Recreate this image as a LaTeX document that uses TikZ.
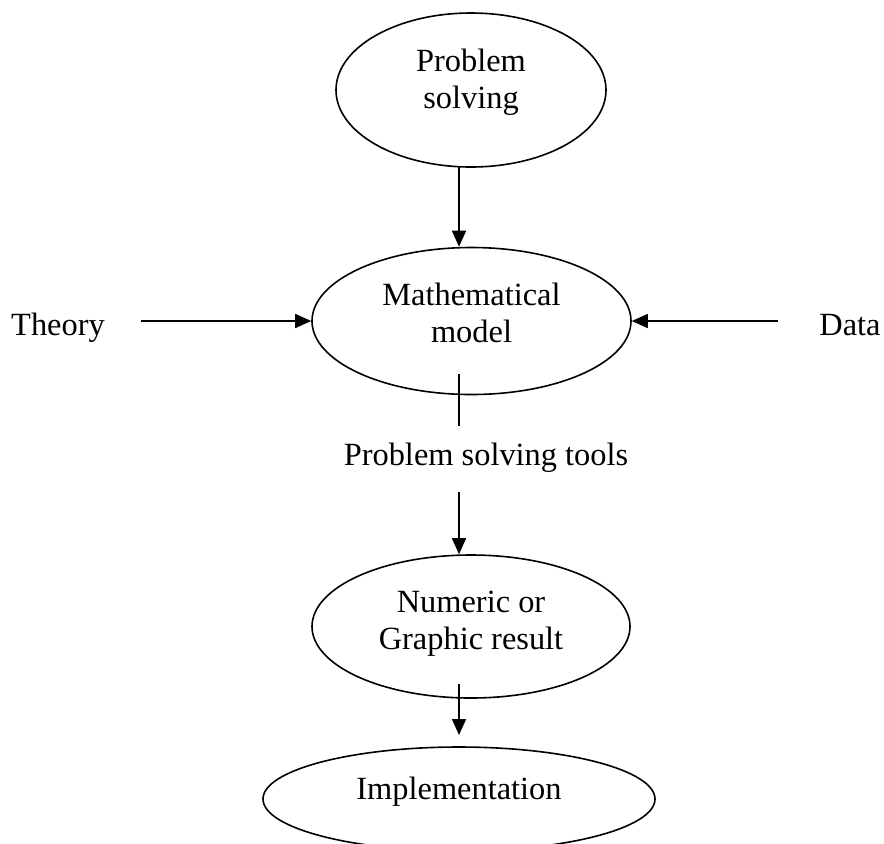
\documentclass[tikz,border=0pt]{standalone}
\usepackage{fontspec}
\setmainfont{Liberation Serif}
\usepackage{tikz}
\usetikzlibrary{shapes.geometric,arrows.meta}
\definecolor{ink}{HTML}{000000}
\newcommand{\labfont}{\fontsize{16.2}{18.5}\selectfont}
\tikzset{
  base/.style={draw=ink, line width=0.8pt},
  arr/.style={base, -{Triangle[length=8pt,width=7pt]}},
  oval/.style={ellipse, draw=ink, line width=0.8pt, inner sep=0pt, align=center, text=ink, font=\labfont},
  lab/.style={text=ink, font=\labfont, inner sep=0pt},
}

\begin{document}
\begin{tikzpicture}[x=0.5pt,y=-0.5pt]
  \useasboundingbox (0,0) rectangle (884,843);

  \node[oval, minimum width=135pt, minimum height=77pt, text depth=11.6pt] (ps) at (471,90) {Problem\\solving};
  \node[oval, minimum width=159.5pt, minimum height=73.5pt, text depth=8.6pt] (mm) at (471.5,321) {Mathematical\\model};
  \node[oval, minimum width=159pt, minimum height=71.5pt, text depth=6.6pt] (nr) at (471,626.5) {Numeric or\\Graphic result};
  \node[oval, minimum width=196pt, minimum height=52pt, text depth=10.6pt] (impl) at (459,799) {Implementation};

  \node[lab, anchor=base] (theory) at (58,335) {Theory};
  \node[lab, anchor=base] (data) at (850,335) {Data};
  \node[lab, anchor=base] (tools) at (486,465) {Problem solving tools};

  \coordinate (a1) at (459,167);
  \coordinate (tin) at (141,321);
  \coordinate (din) at (778,321);
  \coordinate (t1) at (459,374);
  \coordinate (t2) at (459,426);
  \coordinate (a3) at (459,492);
  \coordinate (a4) at (459,684);
  \coordinate (a5) at (459,735);

  \draw[arr] (a1) -- (a1 |- mm.north);
  \draw[arr] (tin) -- (mm.west);
  \draw[arr] (din) -- (mm.east);
  \draw[base] (t1) -- (t2);
  \draw[arr] (a3) -- (a3 |- nr.north);
  \draw[arr] (a4) -- (a5);
\end{tikzpicture}
\end{document}
